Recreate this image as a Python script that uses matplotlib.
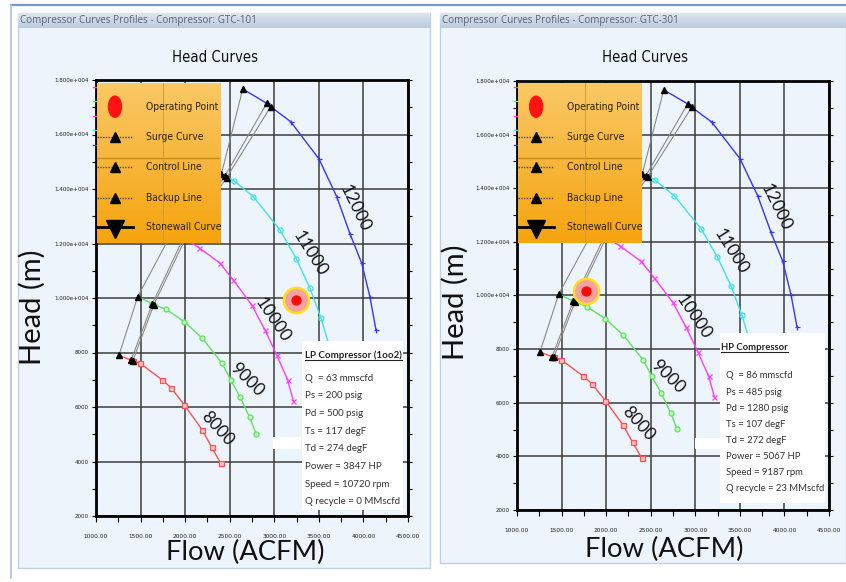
import numpy as np
import matplotlib
matplotlib.use('Agg')
import matplotlib.pyplot as plt
from matplotlib.patches import Rectangle, Ellipse
from matplotlib.lines import Line2D
from matplotlib.ticker import MultipleLocator, FuncFormatter
from matplotlib import font_manager as fm

W, H = 846, 582

# ---------------- data ----------------
speed_labels = ['8000', '9000', '10000', '11000', '12000']

flow_8000 = [1258, 1393, 1412, 1494, 1744, 1841, 1991, 2193, 2298, 2399]
head_8000 = [7900, 7715, 7690, 7605, 6990, 6710, 6075, 5155, 4520, 3935]
flow_9000 = [1468, 1632, 1650, 1785, 1991, 2193, 2414, 2511, 2615, 2724, 2795]
head_9000 = [10050, 9790, 9760, 9585, 9130, 8520, 7605, 6990, 6380, 5620, 5020]
flow_10000 = [1860, 2155, 2391, 2540, 2747, 2896, 3027, 3150, 3213]
head_10000 = [12450, 11850, 11275, 10660, 9745, 8825, 7910, 6990, 6230]
flow_11000 = [2406, 2548, 2765, 3064, 3249, 3401, 3522, 3620, 3710]
head_11000 = [14540, 14305, 13720, 12495, 11430, 10355, 9280, 8200, 7100]
flow_12000 = [2646, 2915, 2960, 3184, 3502, 3700, 3850, 3981, 4074, 4141]
head_12000 = [17670, 17145, 17020, 16470, 15100, 13720, 12350, 11275, 10025, 8825]

surge_flow = [1258, 1468, 1860, 2406, 2646]
surge_head = [7900, 10050, 12450, 14540, 17670]
control_flow = [1393, 1632, 1985, 2445, 2915]
control_head = [7715, 9790, 12230, 14470, 17145]
backup_flow = [1412, 1650, 2005, 2465, 2960]
backup_head = [7690, 9760, 12190, 14420, 17020]

# curve label anchor positions (flow, head) and angles
label_flow = [2361, 2691, 2978, 3401, 3906]
label_head = [5219, 6991, 9193, 11641, 13293]
label_rot = [-48, -45, -56, -58, -64]

legend_labels = ['Operating Point', 'Surge Curve', 'Control Line', 'Backup Line', 'Stonewall Curve']

# panel-specific operating points and info
op_flow = [3244, 1770]
op_head = [9927, 10150]
window_titles = ['Compressor Curves Profiles - Compressor: GTC-101',
                 'Compressor Curves Profiles - Compressor: GTC-301']
info_headers = ['LP Compressor (1oo2)', 'HP Compressor']
info_lines_lp = ['Q  = 63 mmscfd', 'Ps = 200 psig', 'Pd = 500 psig', 'Ts = 117 degF',
                 'Td = 274 degF', 'Power = 3847 HP', 'Speed = 10720 rpm', 'Q recycle = 0 MMscfd']
info_lines_hp = ['Q  = 86 mmscfd', 'Ps = 485 psig', 'Pd = 1280 psig', 'Ts = 107 degF',
                 'Td = 272 degF', 'Power = 5067 HP', 'Speed = 9187 rpm', 'Q recycle = 23 MMscfd']

curve_colors = ['#FF5252', '#5FE35F', '#FF3CFF', '#3EE3EA', '#3535FF']
curve_markers = ['s', 'o', 'x', 'o', '+']
curve_mfc = ['#FFC0C0', '#C0FFC0', '#FF3CFF', 'none', '#3535FF']

CAL = ['Lato', 'DejaVu Sans']
SEG = ['Open Sans', 'DejaVu Sans']


def find_narrow():
    for f in fm.fontManager.ttflist:
        n = (f.name + ' ' + f.fname).lower()
        if ('narrow' in n or 'condensed' in n) and f.style == 'normal' and 'bold' not in n \
                and 'oblique' not in n and 'italic' not in n:
            return f.fname
    return None


NARROW_PATH = find_narrow()


def narrow_fp(size):
    if NARROW_PATH:
        return fm.FontProperties(fname=NARROW_PATH, size=size)
    return fm.FontProperties(family=['Liberation Sans', 'DejaVu Sans'], size=size)


def fx(px):
    return px / W


def fy(py):
    return 1 - py / H


fig = plt.figure(figsize=(W / 100, H / 100), dpi=100)
fig.patch.set_facecolor('white')
renderer = fig.canvas.get_renderer()


def fit_size(text, base, target_px):
    t = fig.text(0, 0, text, fontproperties=narrow_fp(base))
    w = t.get_window_extent(renderer).width
    t.remove()
    return base * target_px / w


LEG_FS = fit_size('Operating Point', 10, 72)
XT_FS = fit_size('1000.00', 6, 24)
YT_FS = fit_size('1.800e+004', 6, 34)
HC_FS = fit_size('Head Curves', 12, 86)


def px_axes(x0, y0, x1, y1, z):
    return fig.add_axes([fx(x0), fy(y1), (x1 - x0) / W, (y1 - y0) / H], zorder=z)


def grad_axes(x0, y0, x1, y1, c_top, c_bot, z):
    ax = px_axes(x0, y0, x1, y1, z)
    t = np.linspace(0, 1, 64)[:, None, None]
    c0 = np.array(c_top)[None, None, :] / 255.0
    c1 = np.array(c_bot)[None, None, :] / 255.0
    img = c0 * (1 - t) + c1 * t
    ax.imshow(img, aspect='auto', extent=[0, 1, 0, 1], interpolation='bilinear')
    ax.set_xlim(0, 1)
    ax.set_ylim(0, 1)
    ax.axis('off')
    return ax


def frect(x0, y0, x1, y1, **kw):
    r = Rectangle((fx(x0), fy(y1)), (x1 - x0) / W, (y1 - y0) / H,
                  transform=fig.transFigure, **kw)
    fig.add_artist(r)
    return r


# outer frame lines
fig.add_artist(Line2D([fx(11), 1], [fy(4.5), fy(4.5)], color='#7198D6', lw=1.6,
                      transform=fig.transFigure, zorder=-5))
fig.add_artist(Line2D([fx(11), fx(11)], [fy(4.5), fy(578)], color='#A9C0E6', lw=1.2,
                      transform=fig.transFigure, zorder=-5))

panels = [dict(px0=18, px1=430, pbot=568, ax=(96, 80, 408, 516), title_x=215,
               head_x=32, head_y=307, flow_x=245, flow_y=552,
               leg=(97, 83, 220, 243),
               box=(301.7, 340.7, 403, 510), hdr=(305, 355), txt_x=305, txt_y0=378.3, txt_dy=17.65,
               patch=(273, 437, 301, 449), fs=7.0),
          dict(px0=440, px1=846, pbot=563, ax=(517, 81, 829, 510), title_x=645,
               head_x=455, head_y=302, flow_x=664, flow_y=549,
               leg=(518, 83, 642, 243),
               box=(720, 333, 825, 503), hdr=(721, 347.3), txt_x=726, txt_y0=376, txt_dy=16.1,
               patch=(695, 438, 724, 449), fs=6.8)]
info_lines_all = [info_lines_lp, info_lines_hp]

curves_flow = [flow_8000, flow_9000, flow_10000, flow_11000, flow_12000]
curves_head = [head_8000, head_9000, head_10000, head_11000, head_12000]

for i, P in enumerate(panels):
    # panel background and title bar
    frect(P['px0'], 13, P['px1'], P['pbot'], facecolor='#EDF4FC', edgecolor='#BFD0E4', lw=1, zorder=-4)
    grad_axes(P['px0'], 13, P['px1'], 28, (222, 230, 240), (186, 202, 222), -3)
    fig.text(fx(P['px0'] + 2), fy(20.5), window_titles[i], ha='left', va='center',
             fontsize=7.1, color='#5A6270', family=SEG, zorder=-2)

    x0, y0, x1, y1 = P['ax']
    ax = px_axes(x0, y0, x1, y1, 0)
    ax.set_facecolor('#EDF4FC')
    ax.set_xlim(1000, 4500)
    ax.set_ylim(2000, 18000)
    ax.xaxis.set_major_locator(MultipleLocator(500))
    ax.xaxis.set_minor_locator(MultipleLocator(250))
    ax.yaxis.set_major_locator(MultipleLocator(2000))
    ax.yaxis.set_minor_locator(MultipleLocator(1000))
    ax.xaxis.set_major_formatter(FuncFormatter(lambda v, p: f'{v:.2f}'))
    ax.yaxis.set_major_formatter(FuncFormatter(
        lambda v, p: (f'{v / 1e4:.3f}e+004' if v >= 10000 else f'{int(v)}')))
    ax.grid(True, which='major', color='#3C3C3C', lw=1.1)
    ax.set_axisbelow(True)
    for s in ax.spines.values():
        s.set_linewidth(2.0)
        s.set_color('black')
    ax.tick_params(axis='x', which='both', direction='out', length=4, width=0.8,
                   pad=9, labelcolor='#222222')
    ax.tick_params(axis='y', which='both', direction='out', length=3, width=0.8,
                   right=True, labelcolor='#222222', pad=2)
    for lab in ax.get_xticklabels():
        lab.set_fontproperties(narrow_fp(XT_FS))
    for lab in ax.get_yticklabels():
        lab.set_fontproperties(narrow_fp(YT_FS))

    # connecting lines
    for fl, hd in [(surge_flow, surge_head), (control_flow, control_head), (backup_flow, backup_head)]:
        ax.plot(fl, hd, color='#8A8A8A', lw=0.8, zorder=2)

    # speed curves
    for k in range(5):
        ax.plot(curves_flow[k], curves_head[k], color=curve_colors[k], lw=1.0, zorder=3)
        ax.plot(curves_flow[k], curves_head[k], ls='none', marker=curve_markers[k],
                markevery=slice(1, None), ms=3.6, mfc=curve_mfc[k], mec=curve_colors[k],
                mew=0.9, zorder=4)
        ax.text(label_flow[k], label_head[k], speed_labels[k], rotation=label_rot[k],
                rotation_mode='anchor', ha='center', va='center', fontsize=12.5,
                family=CAL, color='#151515', zorder=5)
    for fl, hd in [(surge_flow, surge_head), (control_flow, control_head), (backup_flow, backup_head)]:
        ax.plot(fl, hd, ls='none', marker='^', ms=4, color='black', zorder=5)

    # operating point
    ax.scatter([op_flow[i]], [op_head[i]], s=330, c='#F3A2A2', edgecolors='#FFE01A',
               linewidths=1.8, zorder=6)
    ax.scatter([op_flow[i]], [op_head[i]], s=55, c='#FF0A0A', linewidths=0, zorder=7)

    # texts
    fig.text(fx(P['title_x']), fy(58), 'Head Curves', ha='center', va='center',
             fontproperties=narrow_fp(HC_FS), color='#111111')
    fig.text(fx(P['head_x']), fy(P['head_y']), 'Head (m)', rotation=90, ha='center',
             va='center', fontsize=21, family=CAL, color='#111111')
    fig.text(fx(P['flow_x']), fy(P['flow_y']), 'Flow (ACFM)', ha='center', va='center',
             fontsize=19.7, family=CAL, color='#111111')

    # small colored marks at left spine
    for k in range(5):
        yy = 86.7 + k * 14.5
        fig.add_artist(Line2D([fx(x0 - 3), fx(x0)], [fy(yy), fy(yy)], color=curve_colors[k],
                              lw=1, transform=fig.transFigure, zorder=1))

    # info box
    bx0, by0, bx1, by1 = P['box']
    frect(bx0, by0, bx1, by1, facecolor='white', edgecolor='none', zorder=4)
    pa = P['patch']
    frect(pa[0], pa[1], pa[2], pa[3], facecolor='white', edgecolor='none', zorder=4)
    t = fig.text(fx(P['hdr'][0]), fy(P['hdr'][1]), info_headers[i], ha='left', va='center',
                 fontsize=P['fs'], fontweight='bold', family=CAL, color='#222222', zorder=6)
    bb = t.get_window_extent(renderer)
    fig.add_artist(Line2D([bb.x0 / W, bb.x1 / W], [(bb.y0 - 0.5) / H, (bb.y0 - 0.5) / H],
                          color='#222222', lw=0.8, transform=fig.transFigure, zorder=6))
    for j, line in enumerate(info_lines_all[i]):
        fig.text(fx(P['txt_x']), fy(P['txt_y0'] + j * P['txt_dy']), line, ha='left',
                 va='center', fontsize=P['fs'], family=CAL, color='#333333', zorder=6)

    # legend
    lx0, ly0, lx1, ly1 = P['leg']
    lax = grad_axes(lx0, ly0, lx1, ly1, (250, 200, 102), (245, 164, 14), 8)
    lw_ = lx1 - lx0
    lh_ = ly1 - ly0
    lax.plot([0, 1], [0.533, 0.533], color='#C98A1C', lw=1.0, transform=lax.transAxes)
    lax.plot([0.537, 0.537], [0, 1], color='#D69A35', lw=0.7, transform=lax.transAxes)
    rows = [0.852, 0.661, 0.473, 0.283, 0.098]
    mx = 0.146
    lax.add_patch(Ellipse((mx, rows[0]), 13 / lw_, 21 / lh_, color='#FF1212',
                          transform=lax.transAxes))
    for r in rows[1:4]:
        lax.plot([0.0, 0.29], [r, r], color='#444444', lw=1.0, ls=(0, (1, 1)),
                 transform=lax.transAxes)
        lax.plot([mx], [r], marker='^', ms=7.5, color='black', transform=lax.transAxes)
    lax.plot([0.0, 0.29], [rows[4], rows[4]], color='black', lw=2.0, transform=lax.transAxes)
    lax.plot([mx], [rows[4] - 0.01], marker='v', ms=13, color='black', transform=lax.transAxes)
    for r, lab in zip(rows, legend_labels):
        lax.text(0.395, r, lab, ha='left', va='center', fontproperties=narrow_fp(LEG_FS),
                 color='#2A2000', transform=lax.transAxes)

fig.savefig('out.png', dpi=100, facecolor='white')
